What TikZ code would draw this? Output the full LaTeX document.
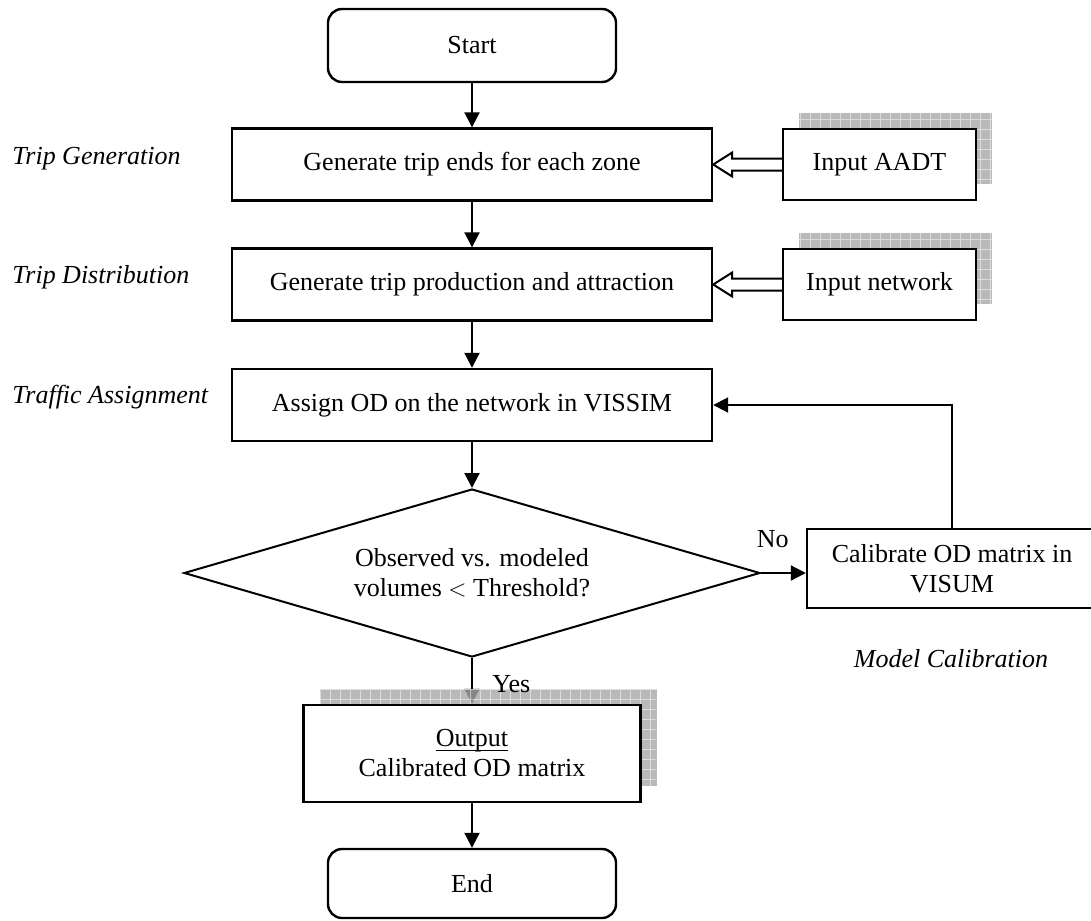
\documentclass[tikz,border=0pt]{standalone}
\usepackage{fontspec}
\setmainfont{Liberation Serif}
\usetikzlibrary{shapes.geometric, arrows.meta, calc, shadows, patterns.meta, backgrounds}

% hollow block arrow from an input box to a process box
\newcommand{\inputarrow}[2]{%
  \draw[line width=1pt, fill=white] ($(#1.west)+(0,-6)$) -- ($(#2.east)+(19,-6)$)
    -- ($(#2.east)+(19,-12)$) -- (#2.east) -- ($(#2.east)+(19,12)$)
    -- ($(#2.east)+(19,6)$) -- ($(#1.west)+(0,6)$);}

\begin{document}
\begin{tikzpicture}[x=0.5pt, y=-0.5pt, font=\fontsize{13}{15}\selectfont,
  proc/.style={rectangle, draw, line width=1.2pt, fill=white, align=center,
               minimum width=240pt, minimum height=36pt, inner sep=0pt},
  term/.style={proc, rounded corners=7pt, minimum width=144pt},
  inbox/.style={proc, minimum width=96.5pt, minimum height=35.5pt,
    general shadow={shadow xshift=8pt, shadow yshift=8pt, fill=black!34, opacity=.8},
    general shadow={shadow xshift=8pt, shadow yshift=8pt, opacity=.5,
      pattern={Hatch[angle=0, distance=5pt, line width=.5pt]}, pattern color=white}},
  decide/.style={diamond, draw, line width=1pt, fill=white, align=center, inner sep=0pt,
                 minimum width=288pt, minimum height=84pt, aspect=3.43},
  stage/.style={font=\fontsize{13}{15}\selectfont\itshape, inner sep=0pt, anchor=base west},
  arr/.style={-{Triangle[length=7.5pt, width=7.5pt]}, line width=1pt}]
  \useasboundingbox (0,0) rectangle (1091,920);

  \node[term, minimum height=36.5pt] (start) at (472,45.5) {Start};
  \node[proc] (gen) at (472,164.5) {Generate trip ends for each zone};
  \node[proc] (dist) at (472,284.5) {Generate trip production and attraction};
  \node[proc] (assign) at (472,405) {Assign OD on the network in VISSIM};
  \node[decide] (dec) at (472,573) {Observed vs. modeled\\volumes $<$ Threshold?};
  \node[proc, minimum width=145pt, minimum height=39.5pt] (cal) at (952,568.5)
    {Calibrate OD matrix in\\VISUM};
  \node[inbox, minimum width=168.5pt, minimum height=48.5pt] (out) at (472,753.5)
    {\underline{\smash{Output}\vphantom{O}}\\Calibrated OD matrix};
  \node[term, minimum height=34.5pt] (end) at (472,883.5) {End};

  \node[inbox] (inA) at (879.5,164.5) {Input AADT};
  \node[inbox] (inN) at (879.5,284.5) {Input network};

  \node[stage] (tg) at (12,164) {Trip Generation};
  \node[stage] (td) at (12,283.5) {Trip Distribution};
  \node[stage] (ta) at (12,403) {Traffic Assignment};
  \node[stage, anchor=base] (mc) at (951,667) {Model Calibration};

  \foreach \a/\b in {start/gen, gen/dist, dist/assign, assign/dec, out/end}
    \draw[arr] (\a) -- (\b);
  \inputarrow{inA}{gen}
  \inputarrow{inN}{dist}
  \draw[arr] (dec.east) -- node[pos=.26, above=12pt, inner sep=0pt] (no) {No}
    (dec.east -| cal.west);
  \draw[arr] (cal.north) |- (assign.east);
  \begin{pgfonlayer}{background}
    \draw[arr] (dec.south) -- (out.north);
  \end{pgfonlayer}
  \path (dec.south) -- node[pos=.56, right=10pt, inner sep=0pt] (yes) {Yes} (out.north);
\end{tikzpicture}
\end{document}
